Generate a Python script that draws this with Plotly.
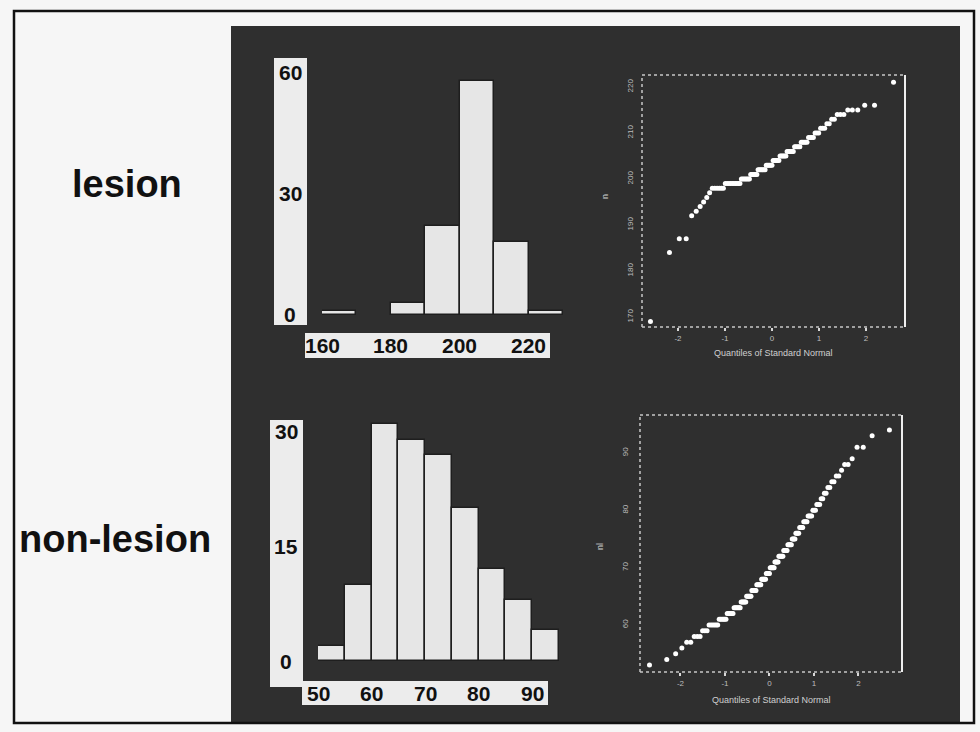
import numpy as np
import plotly.graph_objects as go
from statistics import NormalDist

# ---------------- data ----------------
lesion_values = [169, 184, 187, 192, 193, 194, 195, 196, 197, 198, 199, 200, 201, 202, 203,
                 204, 205, 206, 207, 208, 209, 210, 211, 212, 213, 214, 215, 216, 221]
lesion_counts = [1, 1, 2, 1, 1, 1, 1, 1, 1, 6, 10, 7, 6, 7, 6,
                 6, 6, 6, 5, 5, 4, 3, 3, 2, 2, 3, 3, 2, 1]

nonlesion_values = [53, 54, 55, 56, 57, 58, 59, 60, 61, 62, 63, 64, 65, 66, 67, 68, 69, 70, 71, 72,
                    73, 74, 75, 76, 77, 78, 79, 80, 81, 82, 83, 84, 85, 86, 87, 88, 89, 91, 93, 94]
nonlesion_counts = [1, 1, 1, 1, 2, 3, 3, 6, 6, 6, 7, 6, 6, 6, 6, 6, 5, 6, 5, 6,
                    5, 5, 4, 4, 4, 4, 4, 3, 3, 2, 2, 2, 2, 2, 1, 2, 1, 2, 1, 1]

group_labels = ["lesion", "non-lesion"]
hist_top_yticks = [0, 30, 60]
hist_top_xticks = [160, 180, 200, 220]
hist_bot_yticks = [0, 15, 30]
hist_bot_xticks = [50, 60, 70, 80, 90]
qq_xticks = [-2, -1, 0, 1, 2]
qq_top_yticks = [170, 180, 190, 200, 210, 220]
qq_bot_yticks = [60, 70, 80, 90]
qq_xtitle = "Quantiles of Standard Normal"
qq_ytitles = ["n", "nl"]

lesion = np.repeat(lesion_values, lesion_counts)
nonlesion = np.repeat(nonlesion_values, nonlesion_counts)


def normal_quantiles(n):
    a = 0.375 if n <= 10 else 0.5
    return [NormalDist().inv_cdf((i - a) / (n + 1 - 2 * a)) for i in range(1, n + 1)]


W, H = 980, 732


def px(x):
    return x / W


def py(y):
    return 1 - y / H


PANEL = "#2f2f2f"
LIGHT = "#ececec"
BAR = "#e6e6e6"
FONT = "Liberation Sans, Arial, sans-serif"

fig = go.Figure()

fig.add_trace(go.Histogram(x=lesion, xbins=dict(start=160, end=230, size=10),
                           marker=dict(color=BAR, line=dict(color="#1e1e1e", width=1.5)),
                           xaxis="x", yaxis="y", showlegend=False))
fig.add_trace(go.Histogram(x=nonlesion, xbins=dict(start=50, end=95, size=5),
                           marker=dict(color=BAR, line=dict(color="#1e1e1e", width=1.5)),
                           xaxis="x2", yaxis="y2", showlegend=False))
fig.add_trace(go.Scatter(x=normal_quantiles(len(lesion)), y=np.sort(lesion), mode="markers",
                         marker=dict(color="white", size=5), xaxis="x3", yaxis="y3",
                         showlegend=False, cliponaxis=False))
fig.add_trace(go.Scatter(x=normal_quantiles(len(nonlesion)), y=np.sort(nonlesion), mode="markers",
                         marker=dict(color="white", size=5), xaxis="x4", yaxis="y4",
                         showlegend=False, cliponaxis=False))

hidden = dict(visible=False, showgrid=False, zeroline=False, fixedrange=True)
qq_x = dict(showgrid=False, zeroline=False, showline=False, tickvals=qq_xticks,
            ticktext=[str(t) for t in qq_xticks], ticks="outside", ticklen=3, tickwidth=2,
            tickcolor="#d8d8d8", tickfont=dict(size=8, color="#bdbdbd", family=FONT),
            automargin=False)
qq_y = dict(showgrid=False, zeroline=False, showline=False, ticks="", tickangle=-90,
            tickfont=dict(size=8, color="#bdbdbd", family=FONT), automargin=False)

fig.update_layout(
    width=W, height=H, margin=dict(l=0, r=0, t=0, b=0),
    paper_bgcolor="#f6f6f6", plot_bgcolor="rgba(0,0,0,0)",
    bargap=0, showlegend=False,
    xaxis=dict(domain=[px(322), px(563)], range=[160, 230], anchor="y", **hidden),
    yaxis=dict(domain=[py(315), py(73)], range=[0, 60], anchor="x", **hidden),
    xaxis2=dict(domain=[px(318), px(559)], range=[50, 95], anchor="y2", **hidden),
    yaxis2=dict(domain=[py(661), py(420)], range=[0, 31.57], anchor="x2", **hidden),
    xaxis3=dict(domain=[px(642), px(905)], range=[-2.766, 2.83], anchor="y3", **qq_x),
    yaxis3=dict(domain=[py(327), py(75)], range=[167.83, 222.6], anchor="x3",
                tickvals=qq_top_yticks, ticklabelstandoff=6, **qq_y),
    xaxis4=dict(domain=[px(640), px(902)], range=[-2.91, 2.98], anchor="y4", **qq_x),
    yaxis4=dict(domain=[py(672), py(415)], range=[51.8, 96.63], anchor="x4",
                tickvals=qq_bot_yticks, ticklabelstandoff=9, **qq_y),
)

shapes = [
    dict(type="rect", xref="paper", yref="paper", x0=px(231), x1=px(960), y0=py(722), y1=py(26),
         fillcolor=PANEL, line=dict(width=0), layer="below"),
    # light label strips of the histograms
    dict(type="rect", xref="paper", yref="paper", x0=px(274), x1=px(307), y0=py(325), y1=py(58),
         fillcolor=LIGHT, line=dict(width=0), layer="below"),
    dict(type="rect", xref="paper", yref="paper", x0=px(305), x1=px(550), y0=py(358), y1=py(333),
         fillcolor=LIGHT, line=dict(width=0), layer="below"),
    dict(type="rect", xref="paper", yref="paper", x0=px(270), x1=px(303), y0=py(687), y1=py(420),
         fillcolor=LIGHT, line=dict(width=0), layer="below"),
    dict(type="rect", xref="paper", yref="paper", x0=px(302), x1=px(548), y0=py(705), y1=py(681),
         fillcolor=LIGHT, line=dict(width=0), layer="below"),
    # outer frame of the slide
    dict(type="rect", xref="paper", yref="paper", x0=px(14), x1=px(974), y0=py(723), y1=py(11),
         fillcolor="rgba(0,0,0,0)", line=dict(color="#111111", width=2.5), layer="above"),
]
for ax in ["3", "4"]:
    xd, yd = f"x{ax} domain", f"y{ax} domain"
    shapes += [
        dict(type="line", xref=xd, yref=yd, x0=0, x1=0, y0=0, y1=1,
             line=dict(color="#c8c8c8", width=1.5, dash="dot")),
        dict(type="line", xref=xd, yref=yd, x0=0, x1=1, y0=0, y1=0,
             line=dict(color="#c8c8c8", width=1.5, dash="dot")),
        dict(type="line", xref=xd, yref=yd, x0=0, x1=1, y0=1, y1=1,
             line=dict(color="#c8c8c8", width=1.5, dash="dot")),
        dict(type="line", xref=xd, yref=yd, x0=1, x1=1, y0=0, y1=1,
             line=dict(color="#eeeeee", width=2)),
    ]
fig.update_layout(shapes=shapes)

ann = []
lab_font = dict(family=FONT, size=21, color="#111111")
C = dict(showarrow=False, xanchor="center", yanchor="middle")
for v in hist_top_yticks:
    ann.append(dict(x=px(290), xref="paper", y=v, yref="y", text=f"<b>{v}</b>", font=lab_font, **C))
for v in hist_top_xticks:
    ann.append(dict(x=v, xref="x", y=py(345), yref="paper", text=f"<b>{v}</b>", font=lab_font, **C))
for v in hist_bot_yticks:
    ann.append(dict(x=px(286), xref="paper", y=v, yref="y2", text=f"<b>{v}</b>", font=lab_font, **C))
for v in hist_bot_xticks:
    ann.append(dict(x=v, xref="x2", y=py(693), yref="paper", text=f"<b>{v}</b>", font=lab_font, **C))

ann.append(dict(x=px(127), xref="paper", y=py(184), yref="paper", text=f"<b>{group_labels[0]}</b>",
                font=dict(family=FONT, size=38, color="#111111"), **C))
ann.append(dict(x=px(115), xref="paper", y=py(539), yref="paper", text=f"<b>{group_labels[1]}</b>",
                font=dict(family=FONT, size=38, color="#111111"), **C))

for ax, ty, yx, yy, ytxt in [("3", 353, 605, 197, qq_ytitles[0]), ("4", 700, 600, 547, qq_ytitles[1])]:
    ann.append(dict(x=0.5, xref=f"x{ax} domain", y=py(ty), yref="paper", text=qq_xtitle,
                    font=dict(family=FONT, size=9, color="#d0d0d0"), **C))
    ann.append(dict(x=px(yx), xref="paper", y=py(yy), yref="paper", text=ytxt, textangle=-90,
                    font=dict(family=FONT, size=9, color="#d0d0d0"), **C))
fig.update_layout(annotations=ann)

fig.write_html("out.html", config={"displayModeBar": False},
               post_script="document.body.style.margin='0px';")
